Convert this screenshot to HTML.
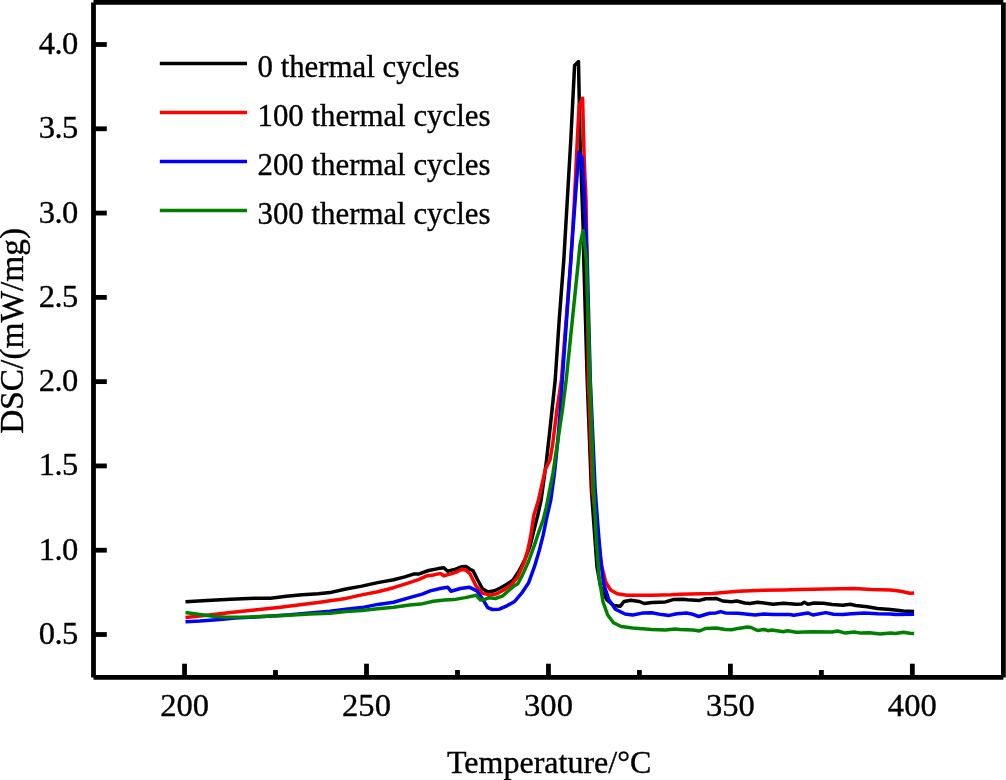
<!DOCTYPE html>
<html lang="en"><head><meta charset="utf-8"><title>DSC curves</title>
<style>html,body{margin:0;padding:0;background:#fff;overflow:hidden}svg{display:block;will-change:transform}text{font-family:"Liberation Serif",serif;fill:#000;stroke:#000;stroke-width:.35px}</style></head><body>
<svg width="1006" height="780" viewBox="0 0 1006 780">
<rect width="1006" height="780" fill="#fff"/>
<polyline fill="none" stroke="#000" stroke-width="3.5" stroke-linejoin="round" stroke-linecap="butt" points="185.5,601.8 206.8,600.6 230.7,599.3 254.5,598.2 270.4,598.2 286.3,596.3 302.2,594.7 318.1,593.7 330.0,592.6 345.9,589.0 361.8,586.1 377.7,582.6 393.6,579.8 404.8,576.9 414.3,573.9 419.1,573.9 428.6,570.5 438.2,568.6 443.7,567.7 447.7,571.3 455.6,569.1 462.0,566.7 466.0,566.4 470.0,569.2 473.1,570.8 477.7,580.0 482.3,588.5 487.7,592.0 494.6,590.8 500.8,587.7 506.9,584.3 513.1,580.0 519.2,570.8 525.4,558.5 530.0,546.2 533.8,530.8 537.7,515.4 541.1,500.0 546.2,463.1 550.3,426.2 555.2,380.0 559.2,320.0 563.8,260.0 570.8,140.0 574.6,65.4 578.5,61.5 580.0,140.0 583.1,226.0 583.8,260.0 587.2,380.0 591.4,490.0 594.2,528.5 597.0,566.9 600.5,586.2 606.7,599.6 613.5,605.4 620.2,606.3 624.0,601.5 630.8,600.2 639.4,601.5 644.2,603.5 651.9,602.5 665.4,601.9 673.1,599.6 682.7,599.2 687.8,599.7 699.4,600.4 705.8,598.7 716.2,598.4 722.6,601.0 731.7,601.7 736.9,601.0 744.6,603.0 749.8,603.6 757.5,602.3 764.0,603.0 773.0,604.2 783.4,603.3 796.3,604.2 801.5,603.9 804.3,602.3 807.9,604.2 814.2,603.0 823.3,603.3 832.3,604.6 842.6,605.2 850.4,604.2 855.6,605.5 867.2,606.8 877.5,608.5 890.5,609.4 903.4,611.1 914.1,611.6"/>
<polyline fill="none" stroke="#f00" stroke-width="3.5" stroke-linejoin="round" stroke-linecap="butt" points="185.5,617.6 206.8,615.3 230.7,612.5 254.5,610.1 278.4,607.4 302.2,604.5 318.1,602.6 330.0,600.7 345.9,598.4 361.8,594.9 377.7,591.7 393.6,587.7 409.5,582.6 419.1,579.3 426.2,576.1 433.4,575.0 440.5,573.4 443.7,575.8 450.9,573.9 457.2,571.8 462.0,569.1 466.0,570.2 470.0,573.8 476.2,586.2 482.3,593.1 490.0,595.1 496.9,593.8 503.8,590.0 511.5,584.6 517.7,576.9 523.8,563.1 527.7,550.8 530.8,535.4 533.8,515.4 538.5,500.0 545.4,469.2 550.0,460.0 552.6,444.6 556.8,410.8 561.4,380.0 570.9,260.0 574.4,200.0 577.3,140.0 579.1,106.0 582.6,98.2 584.2,160.0 586.0,200.0 587.0,260.0 588.5,380.0 592.5,490.0 597.0,530.0 601.9,566.9 605.8,582.3 610.6,590.0 617.3,593.8 626.9,595.2 651.9,595.2 671.2,594.8 680.0,594.3 712.3,593.6 738.2,591.3 757.5,590.4 783.4,590.0 800.0,589.6 825.8,589.1 854.3,588.4 871.1,589.6 890.5,590.0 900.8,591.3 909.8,593.3 914.1,593.0"/>
<polyline fill="none" stroke="#00f" stroke-width="3.5" stroke-linejoin="round" stroke-linecap="butt" points="185.5,621.7 200.0,621.0 220.0,619.5 235.0,618.0 260.0,616.8 290.0,614.8 310.0,613.0 330.0,611.3 345.9,609.2 361.8,607.6 377.7,604.4 393.6,602.3 409.5,597.6 422.2,594.1 430.2,590.9 441.3,588.2 447.7,587.2 450.9,591.2 460.4,588.5 469.2,587.2 476.9,590.8 482.3,598.5 487.7,607.7 492.3,609.5 499.2,609.2 506.9,605.8 514.6,601.5 522.3,592.3 528.5,583.1 534.6,566.2 539.2,550.8 543.1,535.4 546.9,516.9 550.8,500.0 554.6,472.3 557.7,441.5 560.3,410.8 562.3,380.0 570.8,260.0 576.2,186.2 578.9,152.3 582.3,158.5 584.6,201.5 587.2,260.0 590.3,380.0 595.2,490.0 598.1,528.5 601.0,563.1 603.8,584.2 608.7,599.6 615.4,609.2 625.0,614.0 632.7,615.0 642.3,613.1 651.9,612.7 661.5,614.6 669.2,615.4 676.9,613.7 686.5,613.1 691.6,613.9 698.7,616.5 709.7,613.3 716.2,612.9 720.7,611.6 725.2,612.9 738.2,613.3 755.0,615.0 764.0,613.9 773.0,614.6 789.9,614.6 793.7,615.2 800.0,614.2 807.8,612.9 812.9,615.0 825.8,612.6 833.6,614.2 842.6,614.6 851.7,613.7 864.6,612.9 877.5,613.7 890.5,613.9 895.6,614.6 914.1,614.2"/>
<polyline fill="none" stroke="#008000" stroke-width="3.5" stroke-linejoin="round" stroke-linecap="butt" points="185.5,612.5 200.0,614.5 215.0,616.5 225.9,617.3 250.0,617.0 280.0,615.8 310.0,614.0 330.0,613.2 345.9,611.6 361.8,610.5 377.7,608.7 393.6,607.3 409.5,604.9 420.7,604.1 433.4,601.2 444.5,600.1 454.1,599.6 465.2,597.6 476.3,595.3 480.5,600.1 485.4,599.2 489.2,597.7 495.4,598.5 502.3,596.2 508.5,590.8 513.8,586.2 517.7,583.8 522.3,575.4 528.5,561.5 534.6,544.6 539.2,530.8 543.1,520.0 546.2,507.7 547.7,500.0 553.1,472.3 557.7,441.5 562.3,410.8 566.2,380.0 578.5,260.0 580.0,244.6 583.1,230.8 586.4,260.0 590.0,380.0 593.8,490.0 596.2,538.1 599.0,576.5 602.9,601.5 607.7,615.0 613.5,622.7 621.2,626.5 632.7,628.1 651.9,629.4 665.4,630.0 675.0,629.0 680.0,629.4 692.9,630.1 699.4,631.0 705.8,628.4 716.2,627.9 725.2,629.4 731.7,629.7 738.2,628.4 747.2,626.9 751.1,627.5 757.5,630.5 764.0,629.4 767.9,630.7 771.8,630.1 783.4,631.8 787.3,630.7 796.3,632.3 812.9,631.8 832.3,632.0 837.5,631.0 845.2,633.1 854.3,632.0 860.7,633.1 869.8,632.7 880.1,634.0 890.5,633.1 895.6,633.6 903.4,632.3 909.8,633.3 914.1,633.6"/>
<g stroke="#000" stroke-width="4.8" fill="none">
<line x1="93.5" y1="2.4" x2="1003.4" y2="2.4"/>
<line x1="93.5" y1="677.4" x2="1003.4" y2="677.4"/>
<line x1="93.5" y1="2.4" x2="93.5" y2="677.4"/>
<line x1="1003.4" y1="2.4" x2="1003.4" y2="677.4"/>
<line x1="93.5" y1="44.50" x2="106.8" y2="44.50"/>
<line x1="93.5" y1="128.79" x2="106.8" y2="128.79"/>
<line x1="93.5" y1="213.07" x2="106.8" y2="213.07"/>
<line x1="93.5" y1="297.36" x2="106.8" y2="297.36"/>
<line x1="93.5" y1="381.64" x2="106.8" y2="381.64"/>
<line x1="93.5" y1="465.93" x2="106.8" y2="465.93"/>
<line x1="93.5" y1="550.21" x2="106.8" y2="550.21"/>
<line x1="93.5" y1="634.50" x2="106.8" y2="634.50"/>
<line x1="184.55" y1="677.4" x2="184.55" y2="663.7"/>
<line x1="366.50" y1="677.4" x2="366.50" y2="663.7"/>
<line x1="548.45" y1="677.4" x2="548.45" y2="663.7"/>
<line x1="730.40" y1="677.4" x2="730.40" y2="663.7"/>
<line x1="912.35" y1="677.4" x2="912.35" y2="663.7"/>
<line x1="275.50" y1="677.4" x2="275.50" y2="670"/>
<line x1="457.50" y1="677.4" x2="457.50" y2="670"/>
<line x1="639.40" y1="677.4" x2="639.40" y2="670"/>
<line x1="821.40" y1="677.4" x2="821.40" y2="670"/>
</g>
<g font-size="32.6">
<text x="77.7" y="54.0" text-anchor="end" letter-spacing="-0.6">4.0</text>
<text x="77.7" y="138.3" text-anchor="end" letter-spacing="-0.6">3.5</text>
<text x="77.7" y="222.6" text-anchor="end" letter-spacing="-0.6">3.0</text>
<text x="77.7" y="306.9" text-anchor="end" letter-spacing="-0.6">2.5</text>
<text x="77.7" y="391.1" text-anchor="end" letter-spacing="-0.6">2.0</text>
<text x="77.7" y="475.4" text-anchor="end" letter-spacing="-0.6">1.5</text>
<text x="77.7" y="559.7" text-anchor="end" letter-spacing="-0.6">1.0</text>
<text x="77.7" y="644.0" text-anchor="end" letter-spacing="-0.6">0.5</text>
<text x="184.6" y="716.2" text-anchor="middle">200</text>
<text x="366.5" y="716.2" text-anchor="middle">250</text>
<text x="548.5" y="716.2" text-anchor="middle">300</text>
<text x="730.4" y="716.2" text-anchor="middle">350</text>
<text x="912.3" y="716.2" text-anchor="middle">400</text>
</g>
<text x="447" y="773" font-size="32.3" textLength="204.3" lengthAdjust="spacingAndGlyphs">Temperature/°C</text>
<text transform="translate(23.2,330.9) rotate(-90)" font-size="33.4" text-anchor="middle">DSC/(mW/mg)</text>
<line x1="159.8" y1="63.5" x2="247" y2="63.5" stroke="#000" stroke-width="3.5"/>
<text x="257.5" y="77.4" font-size="30.85">0 thermal cycles</text>
<line x1="159.8" y1="112.5" x2="247" y2="112.5" stroke="#f00" stroke-width="3.5"/>
<text x="257.5" y="126.4" font-size="30.85">100 thermal cycles</text>
<line x1="159.8" y1="161.5" x2="247" y2="161.5" stroke="#00f" stroke-width="3.5"/>
<text x="257.5" y="175.4" font-size="30.85">200 thermal cycles</text>
<line x1="159.8" y1="210.5" x2="247" y2="210.5" stroke="#008000" stroke-width="3.5"/>
<text x="257.5" y="224.4" font-size="30.85">300 thermal cycles</text>
</svg></body></html>
